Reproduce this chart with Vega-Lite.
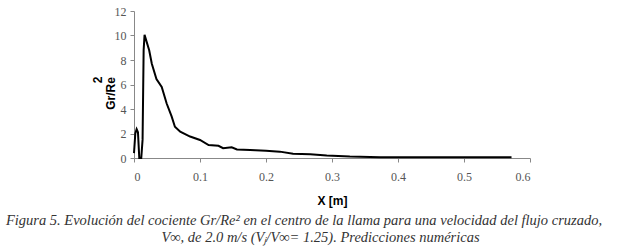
{
  "$schema": "https://vega.github.io/schema/vega-lite/v6.json",
  "autosize": {"type": "none"},
  "padding": {"left": 134, "top": 11, "right": 90, "bottom": 92},
  "width": 396,
  "height": 147,
  "background": "white",
  "config": {"view": {"stroke": null}},
  "title": {
    "text": ["Figura 5. Evolución del cociente Gr/Re² en el centro de la llama para una velocidad del flujo cruzado,", "\u2800\u2800\u2800V∞, de 2.0 m/s (Vⱼ/V∞= 1.25). Predicciones numéricas"],
    "orient": "bottom",
    "anchor": "middle",
    "dx": -28,
    "offset": 8,
    "font": "Liberation Serif",
    "fontStyle": "italic",
    "fontWeight": "normal",
    "fontSize": 14.5,
    "lineHeight": 17,
    "color": "#333333"
  },
  "data": {"values": [
    {"x": 0.0, "y": 0.4},
    {"x": 0.002, "y": 2.0},
    {"x": 0.004, "y": 2.35},
    {"x": 0.006, "y": 2.1},
    {"x": 0.008, "y": 0.0},
    {"x": 0.011, "y": 0.0},
    {"x": 0.013, "y": 1.5},
    {"x": 0.0146, "y": 8.8},
    {"x": 0.016, "y": 10.05},
    {"x": 0.023, "y": 8.8},
    {"x": 0.027, "y": 7.7},
    {"x": 0.034, "y": 6.45},
    {"x": 0.042, "y": 5.8},
    {"x": 0.0495, "y": 4.45},
    {"x": 0.057, "y": 3.4},
    {"x": 0.062, "y": 2.55},
    {"x": 0.07, "y": 2.15},
    {"x": 0.085, "y": 1.75},
    {"x": 0.1, "y": 1.47},
    {"x": 0.113, "y": 1.06},
    {"x": 0.128, "y": 1.0},
    {"x": 0.135, "y": 0.8},
    {"x": 0.148, "y": 0.87},
    {"x": 0.156, "y": 0.7},
    {"x": 0.176, "y": 0.65},
    {"x": 0.2, "y": 0.6},
    {"x": 0.221, "y": 0.52},
    {"x": 0.241, "y": 0.35},
    {"x": 0.267, "y": 0.3},
    {"x": 0.292, "y": 0.2},
    {"x": 0.327, "y": 0.12},
    {"x": 0.373, "y": 0.07},
    {"x": 0.45, "y": 0.06},
    {"x": 0.572, "y": 0.06}
  ]},
  "mark": {"type": "line", "color": "black", "strokeWidth": 2},
  "encoding": {
    "x": {
      "field": "x", "type": "quantitative",
      "scale": {"domain": [0, 0.6], "nice": false, "zero": false},
      "axis": {
        "values": [0, 0.1, 0.2, 0.3, 0.4, 0.5, 0.6],
        "format": ".1~f",
        "grid": false,
        "title": "X [m]",
        "titleFont": "Liberation Sans",
        "titleFontSize": 12,
        "titleFontWeight": "bold",
        "titleColor": "black",
        "titlePadding": 13,
        "labelFont": "Liberation Serif",
        "labelFontSize": 12,
        "labelColor": "#555555",
        "labelPadding": 9,
        "domainColor": "#888888",
        "tickColor": "#888888",
        "tickSize": 4
      }
    },
    "y": {
      "field": "y", "type": "quantitative",
      "scale": {"domain": [0, 12], "nice": false},
      "axis": {
        "values": [0, 2, 4, 6, 8, 10, 12],
        "grid": false,
        "title": ["\u2800\u2800\u28002", "Gr/Re"],
        "titleFont": "Liberation Sans",
        "titleFontSize": 12,
        "titleFontWeight": "bold",
        "titleColor": "black",
        "titleLineHeight": 13,
        "titleX": -30,
        "titleY": 82,
        "labelFont": "Liberation Serif",
        "labelFontSize": 12,
        "labelColor": "#555555",
        "labelPadding": 4,
        "domainColor": "#888888",
        "tickColor": "#888888",
        "tickSize": 4
      }
    }
  }
}
